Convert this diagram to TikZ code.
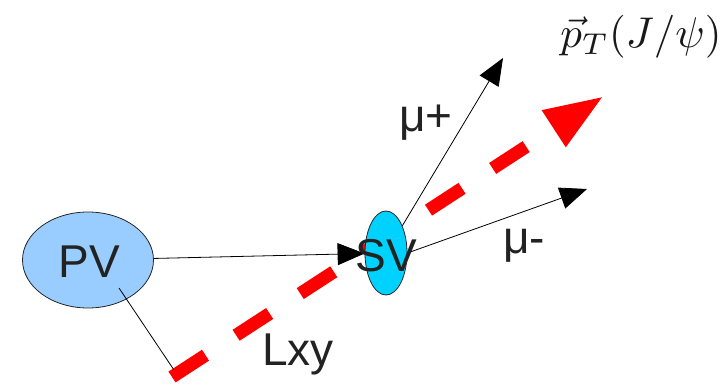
\documentclass[tikz,border=0pt]{standalone}
\usepackage{fontspec}
\setmainfont{Liberation Sans}
\usetikzlibrary{arrows.meta,shapes.geometric}
\definecolor{pvblue}{RGB}{153,204,255}
\definecolor{svcyan}{RGB}{0,210,255}
\definecolor{txtgray}{RGB}{34,34,34}

\begin{document}
\begin{tikzpicture}[x=1pt, y=-1pt,
	vtx/.style={ellipse, draw=black!85, line width=0.8pt, inner sep=0pt},
	lbl/.style={text=txtgray, font=\fontsize{46}{50}\selectfont, inner sep=0pt, anchor=base},
	trk/.style={line width=0.8pt, -{Triangle[length=27pt,width=22pt]}}]
	\useasboundingbox (0,0) rectangle (722,390);
	
	% J/psi direction (SV sits on top of it)
	\draw[red, line width=13pt, dash pattern=on 40pt off 36.5pt,
		-{Triangle[length=60pt,width=40pt]}] (172,377) -- (604,96);
	\node[scale=4.3, text=black!90, inner sep=0pt] (pt) at (641,37) {$\vec{p}_T(J/\psi)$};
	
	% vertices
	\node[vtx, fill=pvblue, minimum width=131pt, minimum height=96pt] (pv) at (88,260) {};
	\node[vtx, fill=svcyan, minimum width=42pt, minimum height=84pt] (sv) at (386,253) {};
	
	% tracks
	\coordinate (mup) at (503,58);
	\coordinate (mum) at (587,189);
	\coordinate (lxyend) at (174,370);
	\draw[trk] (pv) -- (sv);
	\draw[trk] (sv) -- (mup);
	\draw[trk] (sv.east) -- (mum);
	\draw[line width=0.8pt] ([shift={(31,28)}]pv.center) -- (lxyend);
	
	% labels
	\node[lbl] (pvtxt) at (89,277) {PV};
	\node[lbl] (svtxt) at (386,271) {SV};
	\node[lbl] (muplus) at (426,132) {μ+};
	\node[lbl] (muminus) at (524,253) {μ-};
	\node[lbl] (lxy) at (298,365) {Lxy};
\end{tikzpicture}
\end{document}
